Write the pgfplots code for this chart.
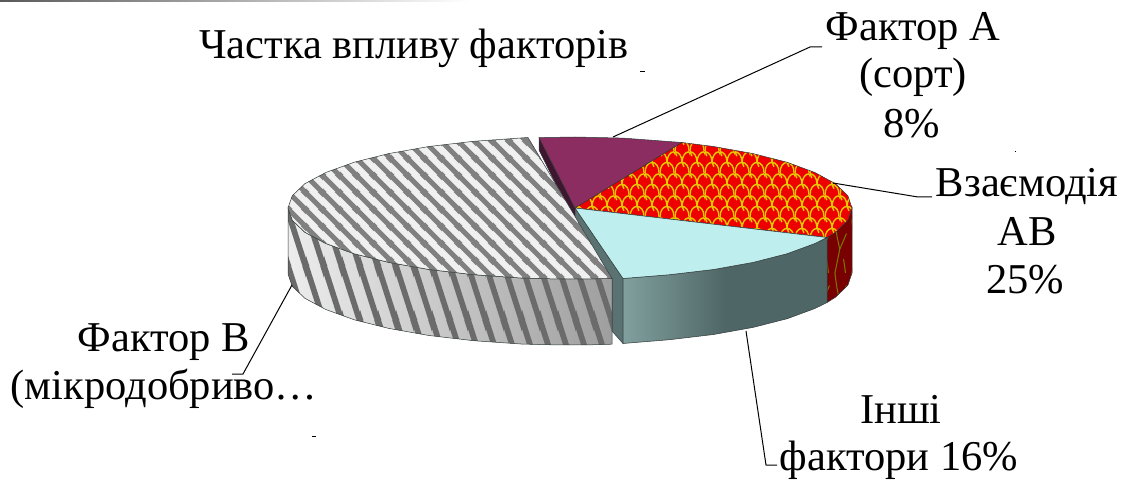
\documentclass[border=0pt]{standalone}
\usepackage{fontspec}
\setmainfont{Liberation Serif}
\usepackage{pgfplots}
\usepackage{pgfplotstable}
\pgfplotsset{compat=1.18}
\usetikzlibrary{patterns}

% heart shaped scale hatch of the interaction slice, top face
\pgfdeclarepatternformonly{scales}{\pgfqpoint{0pt}{0pt}}{\pgfqpoint{15pt}{22pt}}{\pgfqpoint{15pt}{22pt}}{
  \pgfsetlinewidth{1.5pt}
  \pgfpathmoveto{\pgfqpoint{0pt}{0pt}}
  \pgfpathcurveto{\pgfqpoint{0pt}{7pt}}{\pgfqpoint{3.7pt}{11pt}}{\pgfqpoint{7.5pt}{11pt}}
  \pgfpathcurveto{\pgfqpoint{11.3pt}{11pt}}{\pgfqpoint{15pt}{7pt}}{\pgfqpoint{15pt}{0pt}}
  \pgfpathmoveto{\pgfqpoint{7.5pt}{11pt}}
  \pgfpathcurveto{\pgfqpoint{7.5pt}{18pt}}{\pgfqpoint{11.3pt}{22pt}}{\pgfqpoint{15pt}{22pt}}
  \pgfpathmoveto{\pgfqpoint{0pt}{22pt}}
  \pgfpathcurveto{\pgfqpoint{3.7pt}{22pt}}{\pgfqpoint{7.5pt}{18pt}}{\pgfqpoint{7.5pt}{11pt}}
  \pgfpathmoveto{\pgfqpoint{7.5pt}{11pt}}
  \pgfpathlineto{\pgfqpoint{9.5pt}{6.5pt}}
  \pgfpathmoveto{\pgfqpoint{0pt}{22pt}}
  \pgfpathlineto{\pgfqpoint{2pt}{17.5pt}}
  \pgfpathmoveto{\pgfqpoint{15pt}{22pt}}
  \pgfpathlineto{\pgfqpoint{17pt}{17.5pt}}
  \pgfusepath{stroke}
}
% stretched streaks on the side wall of that slice
\pgfdeclarepatternformonly{scalesside}{\pgfqpoint{0pt}{0pt}}{\pgfqpoint{17pt}{52pt}}{\pgfqpoint{17pt}{52pt}}{
  \pgfsetlinewidth{1.1pt}
  \pgfpathmoveto{\pgfqpoint{2pt}{0pt}}
  \pgfpathlineto{\pgfqpoint{7pt}{24pt}}
  \pgfpathlineto{\pgfqpoint{4pt}{38pt}}
  \pgfpathlineto{\pgfqpoint{2pt}{52pt}}
  \pgfpathmoveto{\pgfqpoint{7pt}{24pt}}
  \pgfpathlineto{\pgfqpoint{14pt}{40pt}}
  \pgfpathmoveto{\pgfqpoint{13pt}{0pt}}
  \pgfpathlineto{\pgfqpoint{11pt}{14pt}}
  \pgfusepath{stroke}
}
% stripes on the top face of the fertiliser slice
\pgfdeclarepatternformonly{stripestop}{\pgfqpoint{0pt}{0pt}}{\pgfqpoint{17pt}{17pt}}{\pgfqpoint{17pt}{17pt}}{
  \pgfsetlinewidth{5.3pt}
  \pgfpathmoveto{\pgfqpoint{-3pt}{20pt}}
  \pgfpathlineto{\pgfqpoint{20pt}{-3pt}}
  \pgfpathmoveto{\pgfqpoint{-5pt}{5pt}}
  \pgfpathlineto{\pgfqpoint{5pt}{-5pt}}
  \pgfpathmoveto{\pgfqpoint{12pt}{22pt}}
  \pgfpathlineto{\pgfqpoint{22pt}{12pt}}
  \pgfusepath{stroke}
}
% steeper stripes on its side wall
\pgfdeclarepatternformonly{stripesside}{\pgfqpoint{0pt}{0pt}}{\pgfqpoint{18pt}{54pt}}{\pgfqpoint{18pt}{54pt}}{
  \pgfsetlinewidth{6pt}
  \pgfpathmoveto{\pgfqpoint{-2pt}{60pt}}
  \pgfpathlineto{\pgfqpoint{20pt}{-6pt}}
  \pgfpathmoveto{\pgfqpoint{-20pt}{60pt}}
  \pgfpathlineto{\pgfqpoint{2pt}{-6pt}}
  \pgfpathmoveto{\pgfqpoint{16pt}{60pt}}
  \pgfpathlineto{\pgfqpoint{38pt}{-6pt}}
  \pgfusepath{stroke}
}

\definecolor{edge}{HTML}{303838}
\definecolor{plum}{HTML}{8B2D60}
\definecolor{plumdark}{HTML}{3E1630}
\definecolor{redtop}{HTML}{EE0000}
\definecolor{scale}{HTML}{E8C800}
\definecolor{redside}{HTML}{780000}
\definecolor{olive}{HTML}{7C7400}
\definecolor{cyantop}{HTML}{BEEEEE}
\definecolor{tealcut}{HTML}{5A7272}
\definecolor{tealA}{HTML}{80A09E}
\definecolor{tealB}{HTML}{4F6666}

\pgfplotstableread{
x y
528 137.5
473.6 141.3
429 146.5
388.7 153.6
354 162.3
325.8 172.5
304.9 183.7
292.3 195.7
288 208
292.3 220.3
304.9 232.3
325.8 243.5
354 253.7
388.7 262.4
429 269.5
473.6 274.7
521 278
545.5 278.7
570 279
591 278.8
612 278.6
}\graytop
\pgfplotstableread{
x y
288 208
292.3 220.3
304.9 232.3
325.8 243.5
354 253.7
388.7 262.4
429 269.5
473.6 274.7
521 278
545.5 278.7
570 279
591 278.8
612 278.6
612 344.2
591 344.8
570 345
545.5 344.7
521 344
473.6 340.7
429 335.5
388.7 328.4
354 319.7
325.8 309.5
304.9 298.3
292.3 286.3
288 274
}\grayside
\pgfplotstableread{
x y
575 208
539 137.6
575 137
623.1 138.1
682 142.5
}\plumtop
\pgfplotstableread{
x y
539 137.6
575 208
575 223
539 150
}\plumcut
\pgfplotstableread{
x y
575 208
682 142.5
713.5 146.5
753.1 153.6
787.2 162.3
814.9 172.5
835.4 183.7
847.8 195.7
852 208
847.8 220.3
835.4 232.3
827 237.5
}\redtop
\pgfplotstableread{
x y
852 208
847.8 220.3
835.4 232.3
827 237.5
827 302.5
835.4 297.3
847.8 285.3
852 273
}\redside
\pgfplotstableread{
x y
575 208
827 237.5
814.9 243.5
787.2 253.7
753.1 262.4
713.5 269.5
669.7 274.7
623 278.5
}\cyantop
\pgfplotstableread{
x y
827 237.5
814.9 243.5
787.2 253.7
753.1 262.4
713.5 269.5
669.7 274.7
623 278.5
623 343.5
669.7 339.7
713.5 334.5
753.1 327.4
787.2 318.7
814.9 308.5
827 302.5
}\tealside
\pgfplotstableread{
x y
575 208
623 278.5
623 343.5
612 331
612 278.6
575 223
}\tealcut

\begin{document}
\begin{tikzpicture}[every node/.style={font=\fontsize{42.5}{48}\selectfont, anchor=base, inner sep=0pt}]
\begin{axis}[
    width=1122pt, height=481pt, scale only axis,
    xmin=0, xmax=1122, ymin=0, ymax=481,
    y dir=reverse,
    hide axis, clip=false,
    axis line style={draw=none},
    tick style={draw=none},
]
% keeps the page at the full frame
\addplot[draw=none] coordinates {(0,0)(1122,481)};
% rule along the top edge of the slide
\addplot[draw=none, left color=black!65, right color=white] coordinates {(0,0)(470,0)(470,2)(0,2)} -- cycle;

% right part of the pie
\addplot[fill=plumdark, draw=edge, line width=0.5pt] table {\plumcut} -- cycle;
\addplot[fill=tealcut, draw=edge, line width=0.5pt] table {\tealcut} -- cycle;
\addplot[fill=redside, draw=none] table {\redside} -- cycle;
\addplot[pattern=scalesside, pattern color=olive, draw=edge, line width=0.5pt] table {\redside} -- cycle;
\addplot[left color=tealA, right color=tealB, middle color=tealB, draw=edge, line width=0.5pt] table {\tealside} -- cycle;
\addplot[fill=plum, draw=edge, line width=0.5pt] table {\plumtop} -- cycle;
\addplot[fill=redtop, draw=none] table {\redtop} -- cycle;
\addplot[pattern=scales, pattern color=scale, draw=edge, line width=0.5pt] table {\redtop} -- cycle;
\addplot[fill=cyantop, draw=edge, line width=0.5pt] table {\cyantop} -- cycle;

% microfertiliser slice, pulled out to the left
\addplot[left color=black!7, right color=black!38, draw=none] table {\grayside} -- cycle;
\addplot[pattern=stripesside, pattern color=black!58, draw=edge, line width=0.5pt] table {\grayside} -- cycle;
\addplot[fill=black!6, draw=none] table {\graytop} -- cycle;
\addplot[pattern=stripestop, pattern color=black!50, draw=edge, line width=0.5pt] table {\graytop} -- cycle;

% leader lines
\addplot[black, line width=1pt] coordinates {(613,137)(810,47)(822,47)};
\addplot[black, line width=1pt] coordinates {(833,183)(918,197)(932,197)};
\addplot[black, line width=1pt] coordinates {(292,285)(243,374)(232,374)};
\addplot[black, line width=1pt] coordinates {(746,331)(766,465)(777,465)};
% stray dashes
\addplot[black, line width=1pt] coordinates {(640,71.5)(645,71.5)};
\addplot[black, line width=1pt] coordinates {(1014.5,152)(1015.5,152)};
\addplot[black, line width=1pt] coordinates {(312,436)(316,436)};

\node at (axis cs:414,59) {Частка впливу факторів};
\node at (axis cs:913,41) {Фактор А};
\node at (axis cs:913,88) {(сорт)};
\node at (axis cs:912,138) {8\%};
\node at (axis cs:1027,197) {Взаємодія};
\node at (axis cs:1027,246) {АВ};
\node at (axis cs:1025,294) {25\%};
\node at (axis cs:164,351) {Фактор В};
\node at (axis cs:164,399) {(мікродобриво…};
\node at (axis cs:901,423) {Інші};
\node at (axis cs:899,470) {фактори 16\%};
\end{axis}
\end{tikzpicture}
\end{document}
